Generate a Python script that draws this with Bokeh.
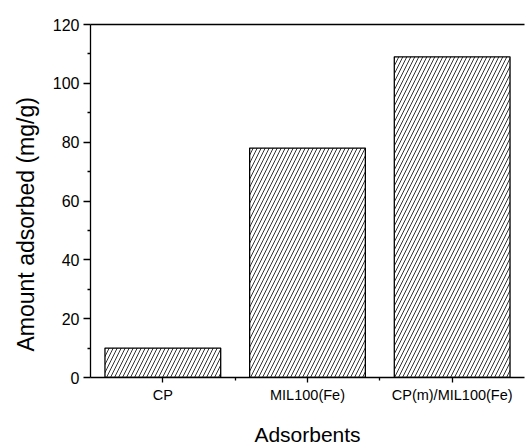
from bokeh.plotting import figure
from bokeh.models import Range1d, FixedTicker, LinearAxis, Title, ColumnDataSource
from bokeh.embed import file_html
from bokeh.resources import INLINE

categories = ["CP", "MIL100(Fe)", "CP(m)/MIL100(Fe)"]
amounts = [10, 78, 109]
y_ticks = [0, 20, 40, 60, 80, 100, 120]
x_title = "Adsorbents"
y_title = "Amount adsorbed (mg/g)"

FONT = "Liberation Sans"
positions = list(range(1, len(categories) + 1))
src = ColumnDataSource(dict(x=positions, top=amounts, name=categories))

p = figure(width=526, height=448, output_backend="svg", toolbar_location=None,
           x_range=Range1d(0.5, len(categories) + 0.5),
           y_range=Range1d(y_ticks[0], y_ticks[-1]),
           min_border_left=90, min_border_right=2, min_border_top=24,
           min_border_bottom=71)
p.outline_line_color = None
p.xgrid.visible = False
p.ygrid.visible = False
p.background_fill_color = "white"
p.border_fill_color = "white"

p.vbar(x="x", top="top", width=0.8, source=src, fill_color="white",
       line_color="black", line_width=1.3, hatch_pattern="/", hatch_scale=8,
       hatch_color="#333333", hatch_weight=1)

# y axis
ya = p.yaxis[0]
ya.ticker = FixedTicker(ticks=y_ticks,
                        minor_ticks=[(a + b) / 2 for a, b in zip(y_ticks[:-1], y_ticks[1:])])
ya.major_tick_out = 7
ya.major_tick_in = 0
ya.minor_tick_out = 3
ya.minor_tick_in = 0
ya.major_label_standoff = 4
ya.major_label_text_font = FONT
ya.major_label_text_font_size = "16px"
ya.major_label_text_color = "black"
ya.axis_line_width = 1.3
ya.major_tick_line_width = 1.3
ya.minor_tick_line_width = 1.3

# x axis
xa = p.xaxis[0]
xa.ticker = FixedTicker(ticks=positions,
                        minor_ticks=[(a + b) / 2 for a, b in zip(positions[:-1], positions[1:])])
xa.major_label_overrides = {pos: c for pos, c in zip(positions, categories)}
xa.major_tick_out = 5
xa.major_tick_in = 0
xa.minor_tick_out = 3
xa.minor_tick_in = 0
xa.major_label_standoff = 4
xa.major_label_text_font = FONT
xa.major_label_text_font_size = "14.5px"
xa.major_label_text_color = "black"
xa.axis_line_width = 1.3
xa.major_tick_line_width = 1.3
xa.minor_tick_line_width = 1.3
xa.axis_label = x_title
xa.axis_label_text_font = FONT
xa.axis_label_text_font_size = "21px"
xa.axis_label_text_font_style = "normal"
xa.axis_label_text_color = "black"
xa.axis_label_standoff = 17

# top frame line
top = LinearAxis(ticker=FixedTicker(ticks=[]), major_tick_out=0, major_tick_in=0,
                 minor_tick_out=0, minor_tick_in=0, major_label_standoff=0,
                 axis_line_width=1.3)
p.add_layout(top, "above")

# y axis title
p.add_layout(Title(text=y_title, text_font=FONT, text_font_size="23px",
                   text_font_style="normal", text_color="black",
                   align="left", offset=26, standoff=21), "left")

open("out.html", "w").write(file_html(p, INLINE))
